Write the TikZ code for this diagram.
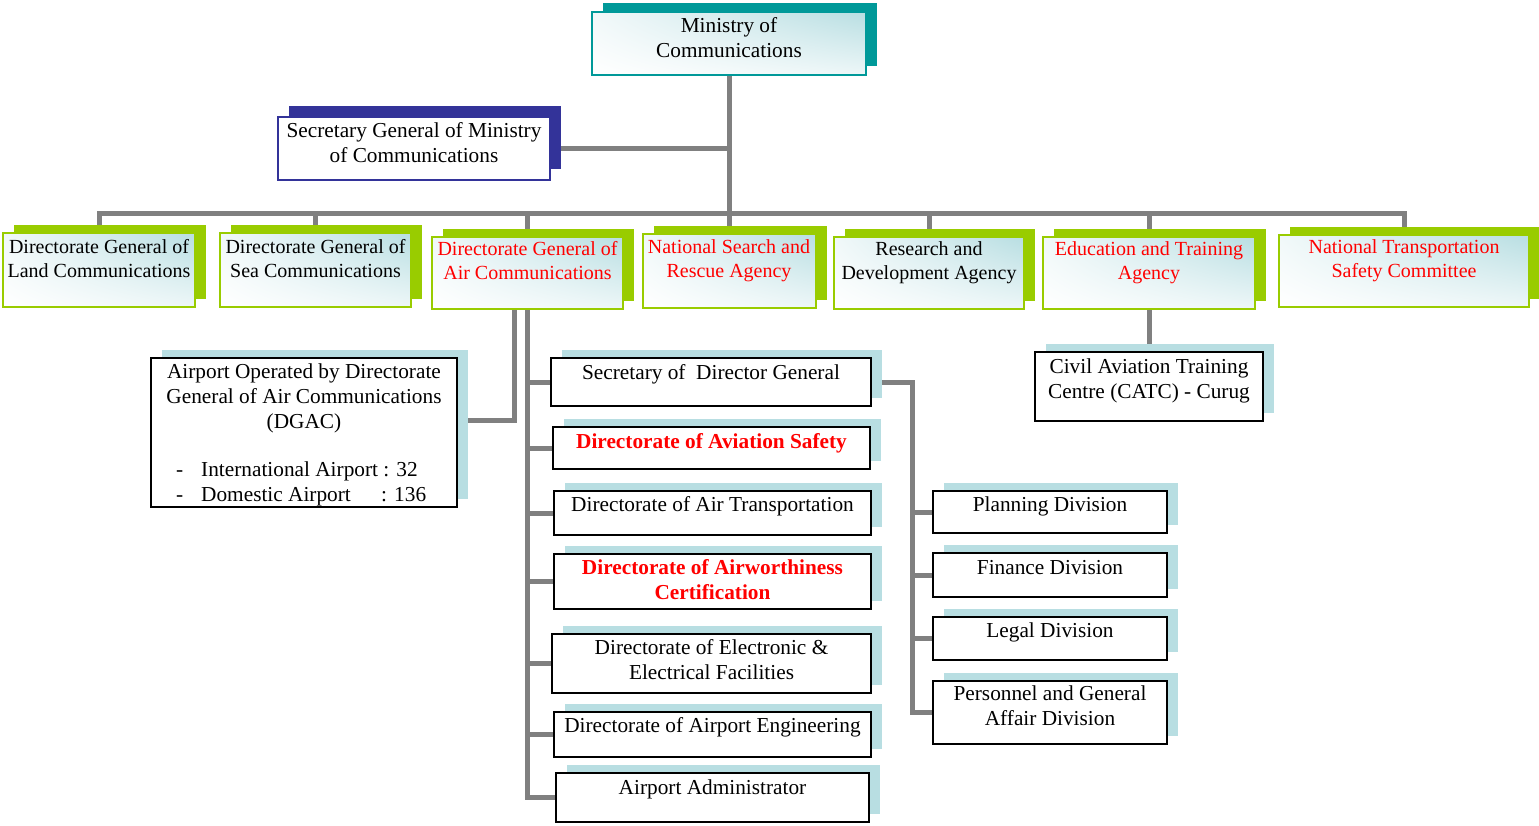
\documentclass[tikz,border=0pt]{standalone}
\usepackage{fontspec}
\setmainfont{Liberation Serif}
\usetikzlibrary{shadows,backgrounds,shadings}
\definecolor{lb}{RGB}{184,222,226}
\definecolor{tealc}{RGB}{0,153,153}
\definecolor{navyc}{RGB}{51,51,153}
\definecolor{greenc}{RGB}{153,204,0}
\definecolor{grayc}{RGB}{128,128,128}
\definecolor{redc}{RGB}{255,0,0}
\tikzset{
  conn/.style={draw=grayc, line width=5pt},
  grad/.style={upper left=lb!20!white, upper right=lb, lower left=white, lower right=lb!25!white},
  boxbase/.style={inner sep=0pt, outer sep=0pt},
  minbox/.style={boxbase, grad, draw=tealc, line width=2pt,
    drop shadow={shadow xshift=11pt, shadow yshift=9pt, fill=tealc, opacity=1}},
  sgbox/.style={boxbase, fill=white, draw=navyc, line width=2pt,
    drop shadow={shadow xshift=11pt, shadow yshift=11pt, fill=navyc, opacity=1}},
  lvbox/.style={boxbase, grad, draw=greenc, line width=2pt,
    drop shadow={shadow xshift=11pt, shadow yshift=8pt, fill=greenc, opacity=1}},
  lbox/.style={boxbase, fill=white, draw=black, line width=2.2pt,
    drop shadow={shadow xshift=11pt, shadow yshift=8pt, fill=lb, opacity=1}},
  txt/.style={anchor=base, align=center, inner sep=0pt, font=\fontsize{21.3}{24.8}\selectfont},
  txtb/.style={txt, font=\fontsize{20}{24}\selectfont},
  redt/.style={text=redc},
}
\begin{document}
\begin{tikzpicture}[x=1pt,y=-1pt]
\useasboundingbox (0,0) rectangle (1539,825);
% top (multi-line text nodes are placed by the baseline of their last line)
\node[minbox, minimum width=274pt, minimum height=63pt] (min) at (729,43.5) {};
\node[txt] (minT) at (729,57) {Ministry of\\Communications};
\node[sgbox, minimum width=272pt, minimum height=63pt] (sg) at (414,148.5) {};
\node[txt] (sgT) at (414,162) {Secretary General of Ministry\\of Communications};
% level 2
\node[lvbox, minimum width=192pt, minimum height=74pt] (land) at (99,270) {};
\node[txtb] (landT) at (99,277) {Directorate General of\\Land Communications};
\node[lvbox, minimum width=191pt, minimum height=74pt] (sea) at (315.5,270) {};
\node[txtb] (seaT) at (315.5,277) {Directorate General of\\Sea Communications};
\node[lvbox, minimum width=191pt, minimum height=72pt] (air) at (527.5,273) {};
\node[txtb, redt] (airT) at (527.5,279) {Directorate General of\\Air Communications};
\node[lvbox, minimum width=173pt, minimum height=74pt] (nsr) at (729,271) {};
\node[txtb, redt] (nsrT) at (729,277) {National Search and\\Rescue Agency};
\node[lvbox, minimum width=190pt, minimum height=72pt] (rd) at (929,273) {};
\node[txtb] (rdT) at (929,279) {Research and\\Development Agency};
\node[lvbox, minimum width=212pt, minimum height=72pt] (edu) at (1149,273) {};
\node[txtb, redt] (eduT) at (1149,279) {Education and Training\\Agency};
\node[lvbox, minimum width=250pt, minimum height=72pt] (ntsc) at (1404,271) {};
\node[txtb, redt] (ntscT) at (1404,277) {National Transportation\\Safety Committee};
% CATC
\node[lbox, minimum width=228pt, minimum height=69pt] (catc) at (1149,386.5) {};
\node[txt] (catcT) at (1149,398) {Civil Aviation Training\\Centre (CATC) - Curug};
% airport
\node[lbox, minimum width=306pt, minimum height=149pt] (apt) at (304,432.5) {};
\node[txt] (aptT) at (304,428) {Airport Operated by Directorate\\General of Air Communications\\(DGAC)};
\node[txt, anchor=base west] (d1) at (176,476) {-};
\node[txt, anchor=base west] (intl) at (201,476) {International Airport : 32};
\node[txt, anchor=base west] (d2) at (176,501) {-};
\node[txt, anchor=base west] (dom) at (201,501) {Domestic Airport};
\node[txt, anchor=base west] (domn) at (381,501) {: 136};
% DGAC column
\node[lbox, minimum width=320pt, minimum height=48pt] (sdg) at (711,382) {};
\node[txt] (sdgT) at (711,379) {Secretary of\ \ Director General};
\node[lbox, minimum width=317pt, minimum height=42pt] (safe) at (711.5,448) {};
\node[txt, redt] (safeT) at (711.5,448) {\bfseries Directorate of Aviation Safety};
\node[lbox, minimum width=317pt, minimum height=44pt] (airt) at (712.5,513) {};
\node[txt] (airtT) at (712.5,511) {Directorate of Air Transportation};
\node[lbox, minimum width=317pt, minimum height=55pt] (airw) at (712.5,581.5) {};
\node[txt, redt] (airwT) at (712.5,599) {\bfseries Directorate of Airworthiness\\\bfseries Certification};
\node[lbox, minimum width=319pt, minimum height=59pt] (elec) at (711.5,663.5) {};
\node[txt] (elecT) at (711.5,679) {Directorate of Electronic \&\\Electrical Facilities};
\node[lbox, minimum width=317pt, minimum height=45pt] (eng) at (712.5,734.5) {};
\node[txt] (engT) at (712.5,732) {Directorate of Airport Engineering};
\node[lbox, minimum width=313pt, minimum height=49pt] (adm) at (712.5,797.5) {};
\node[txt] (admT) at (712.5,794) {Airport Administrator};
% divisions
\node[lbox, minimum width=234pt, minimum height=42pt] (plan) at (1050,512) {};
\node[txt] (planT) at (1050,511) {Planning Division};
\node[lbox, minimum width=234pt, minimum height=44pt] (fin) at (1050,575) {};
\node[txt] (finT) at (1050,574) {Finance Division};
\node[lbox, minimum width=234pt, minimum height=43pt] (legal) at (1050,638.5) {};
\node[txt] (legalT) at (1050,637) {Legal Division};
\node[lbox, minimum width=234pt, minimum height=63pt] (pers) at (1050,712.5) {};
\node[txt] (persT) at (1050,725) {Personnel and General\\Affair Division};
% connectors
\begin{scope}[on background layer]
\fill[white] (0,0) rectangle (1539,825);
\coordinate (bar) at (729,213);
\coordinate (dj) at (912,382);
\draw[conn] (min.south) -- (nsr.north);
\draw[conn] (sg.east) -- (sg.east -| min.south);
\draw[conn] (land.north) |- (bar) -| (ntsc.north);
\foreach \n in {sea,air,rd,edu} \draw[conn] (\n.north) -- (\n.north |- bar);
\draw[conn] (edu.south) -- (catc.north);
\draw[conn] ([xshift=-13.5pt]air.south) |- ([yshift=12.5pt]apt.east);
\draw[conn] (air.south) |- (adm.west);
\foreach \n in {sdg,safe,airt,airw,elec,eng} \draw[conn] (air.south |- \n.west) -- (\n.west);
\draw[conn] (sdg.east) -- (dj) |- (pers.west);
\foreach \n in {plan,fin,legal} \draw[conn] (dj |- \n.west) -- (\n.west);
\end{scope}
\end{tikzpicture}
\end{document}
